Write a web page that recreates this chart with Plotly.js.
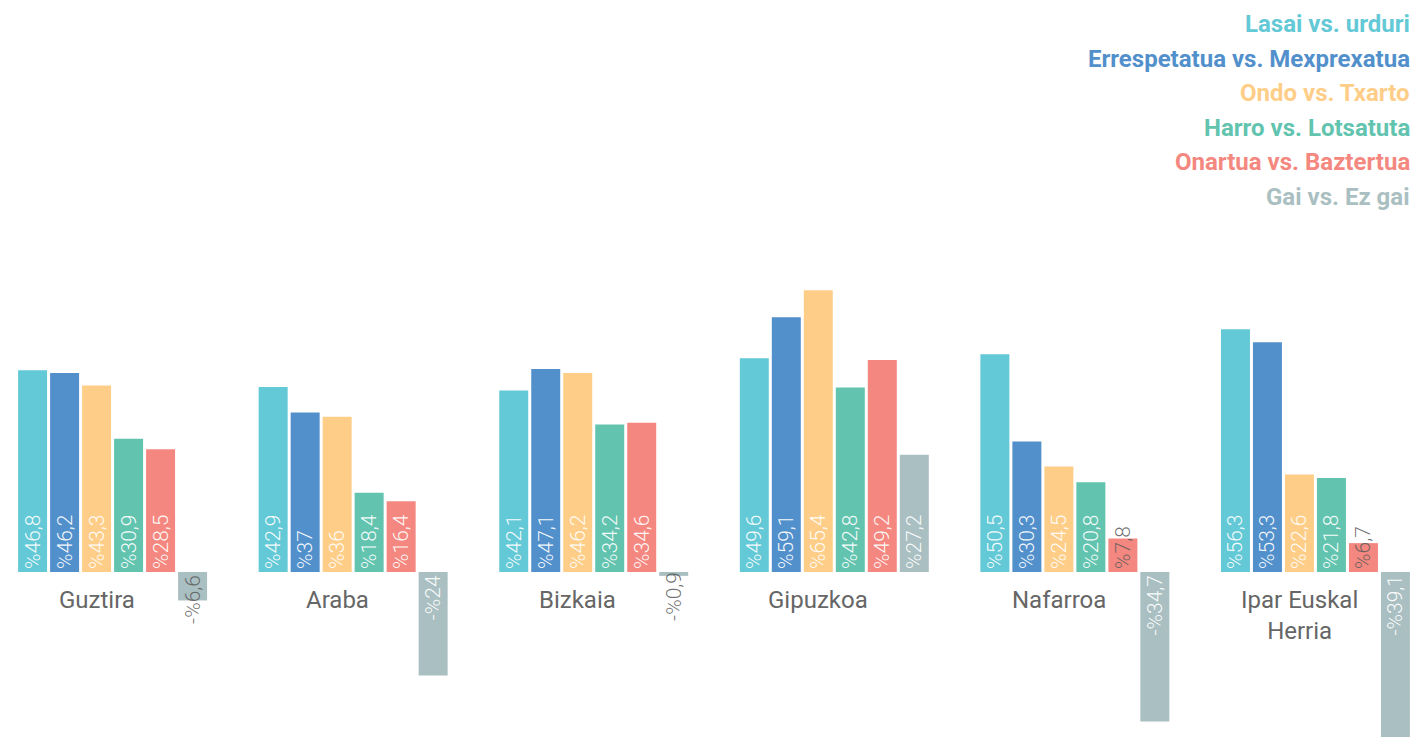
<!DOCTYPE html>
<html>
<head>
<meta charset="utf-8">
<script src="https://cdn.plot.ly/plotly-3.0.1.min.js"></script>
<style>
html,body{margin:0;padding:0;background:#fff;overflow:hidden;}
#chart{width:1416px;height:770px;}
</style>
</head>
<body>
<div id="chart"></div>
<script>
// Categories (regions)
const categories = ["Guztira", "Araba", "Bizkaia", "Gipuzkoa", "Nafarroa", "Ipar Euskal<br>Herria"];

// Series names
const seriesNames = [
  "Lasai vs. urduri",
  "Errespetatua vs. Mexprexatua",
  "Ondo vs. Txarto",
  "Harro vs. Lotsatuta",
  "Onartua vs. Baztertua",
  "Gai vs. Ez gai"
];

// Series values (per category)
const lasai        = [46.8, 42.9, 42.1, 49.6, 50.5, 56.3];
const errespetatua = [46.2, 37.0, 47.1, 59.1, 30.3, 53.3];
const ondo         = [43.3, 36.0, 46.2, 65.4, 24.5, 22.6];
const harro        = [30.9, 18.4, 34.2, 42.8, 20.8, 21.8];
const onartua      = [28.5, 16.4, 34.6, 49.2, 7.8, 6.7];
const gai          = [-6.6, -24.0, -0.9, 27.2, -34.7, -39.1];

const seriesValues = [lasai, errespetatua, ondo, harro, onartua, gai];
const seriesColors = ["#63c9d6", "#5290cc", "#fece88", "#62c4af", "#f48880", "#aabfc1"];

const xs = categories.map((c, i) => i);

function fmt(v) {
  return (v < 0 ? "-" : "") + "%" + String(Math.abs(v)).replace(".", ",");
}

const H = 770; // plot drawn a bit taller than the window so the deepest bar runs off the bottom

const traces = seriesValues.map((vals, s) => ({
  type: "bar",
  name: seriesNames[s],
  x: xs,
  y: vals,
  marker: { color: seriesColors[s] },
  text: vals.map(fmt),
  textposition: "inside",
  insidetextanchor: "start",
  textangle: -90,
  constraintext: "none",
  cliponaxis: false,
  textfont: {
    family: "Roboto, sans-serif",
    size: 21,
    weight: 300,
    color: vals.map(v => Math.abs(v) < 10 ? "rgba(90,90,90,0.85)" : "rgba(255,255,255,0.95)")
  },
  hoverinfo: "skip",
  showlegend: false
}));

// Category labels centred under the first five bars of each group
const labelAnnotations = categories.map((c, i) => ({
  x: i - 0.0665,
  y: 0,
  xref: "x",
  yref: "y",
  yanchor: "top",
  xanchor: "center",
  yshift: -12,
  text: c,
  showarrow: false,
  font: { family: "Roboto, sans-serif", size: 24, color: "#666666" }
}));

// Legend made of coloured text lines, right aligned
const legendAnnotations = seriesNames.map((n, s) => ({
  x: 1412 / 1416,
  xref: "paper",
  xanchor: "right",
  y: 1 - (24 + s * 34.6) / H,
  yref: "paper",
  yanchor: "middle",
  text: "<b>" + n + "</b>",
  showarrow: false,
  font: { family: "Roboto, sans-serif", size: 24, color: seriesColors[s] }
}));

const layout = {
  width: 1416,
  height: H,
  margin: { l: 0, r: 0, t: 0, b: 0 },
  paper_bgcolor: "#ffffff",
  plot_bgcolor: "#ffffff",
  barmode: "group",
  bargap: 0.202,
  bargroupgap: 0.094,
  xaxis: {
    range: [-0.468, 5.418],
    showgrid: false,
    zeroline: false,
    showticklabels: false,
    ticks: ""
  },
  yaxis: {
    range: [(572 - H) / 4.31, 572 / 4.31],
    showgrid: false,
    zeroline: false,
    showticklabels: false,
    ticks: ""
  },
  annotations: labelAnnotations.concat(legendAnnotations),
  showlegend: false
};

Plotly.newPlot("chart", traces, layout, { displayModeBar: false, staticPlot: true });
</script>
</body>
</html>
